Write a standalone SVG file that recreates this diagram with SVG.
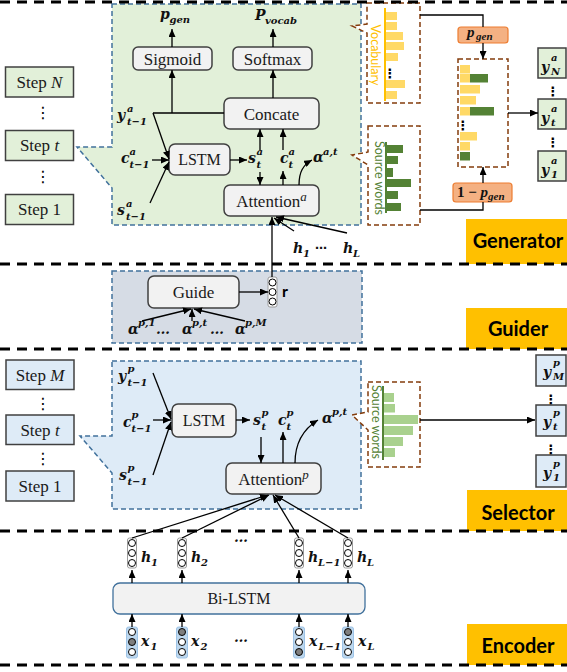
<svg xmlns="http://www.w3.org/2000/svg" width="567" height="672" viewBox="0 0 567 672">
<defs>
<style>
.n{fill:#F2F2F2;stroke:#404040;stroke-width:1.5}
.t{font-family:"Liberation Serif",serif;font-size:17px;fill:#1a1a1a;text-anchor:middle}
.m{font-family:"DejaVu Serif",serif;font-weight:bold;font-style:italic;font-size:14px;fill:#111}
.s{font-size:10px}
.ln{fill:none;stroke:#000;stroke-width:1.3}
.a{marker-end:url(#arr)}
.reg{stroke:#41719C;stroke-width:1.5;stroke-dasharray:5 3}
.br{fill:#fff;stroke:#843C0C;stroke-width:1.5;stroke-dasharray:5 3}
.sep{stroke:#000;stroke-width:3;stroke-dasharray:10 7}
.lab{fill:#FFC000}
.lt{font-family:Lato,"Liberation Sans",sans-serif;font-weight:bold;font-size:20px;text-anchor:middle;fill:#000}
.stg{fill:#E2F0D9;stroke:#404040;stroke-width:1.5}
.stb{fill:#DEEBF7;stroke:#404040;stroke-width:1.5}
.dots{font-family:"DejaVu Sans",sans-serif;font-size:16px;fill:#000;text-anchor:middle}
.vec{fill:#fff;stroke:#9a9a9a;stroke-width:1}
.xv{fill:#BDD7EE;stroke:#9DC3E6;stroke-width:1}
.c{fill:#fff;stroke:#000;stroke-width:1}
.cg{fill:#7F7F7F;stroke:#000;stroke-width:1}
.yb{fill:#FFD966}
.gb{fill:#548235}
.lg{fill:#A9D18E}
.pg{fill:#F4B183;stroke:#ED7D31;stroke-width:1.2}
.vt{font-family:Lato,"Liberation Sans",sans-serif;font-size:12.5px;text-anchor:middle}
.el{font-family:"DejaVu Sans",sans-serif;font-style:normal;font-weight:bold;font-size:12px}
</style>
<marker id="arr" markerUnits="userSpaceOnUse" markerWidth="8" markerHeight="7" refX="8" refY="3.5" orient="auto">
<path d="M0,0 L8,3.5 L0,7 Z" fill="#000"/>
</marker>
</defs>
<rect width="567" height="672" fill="#fff"/>

<!-- section labels -->
<g id="label-generator"><rect class="lab" x="466" y="219" width="101" height="45"/><text class="lt" x="518" y="248">Generator</text></g>
<g id="label-guider"><rect class="lab" x="466" y="308" width="101" height="41"/><text class="lt" x="518" y="336">Guider</text></g>
<g id="label-selector"><rect class="lab" x="467" y="490" width="100" height="41"/><text class="lt" x="518" y="520">Selector</text></g>
<g id="label-encoder"><rect class="lab" x="467" y="624" width="100" height="41"/><text class="lt" x="518" y="653">Encoder</text></g>

<!-- regions -->
<g id="generator-region"><path class="reg" fill="#E2F0D9" d="M112,4 H361 V225 H112 V188 L77,147 H112 Z"/></g>
<g id="guider-region"><rect class="reg" fill="#D6DCE5" x="112" y="271" width="250" height="72"/></g>
<g id="selector-region"><path class="reg" fill="#DEEBF7" d="M112,361 H361 V509 H112 V473 L80,436 H112 Z"/></g>

<!-- generator step boxes -->
<g id="gen-step-N"><rect class="stg" x="5.5" y="67" width="68" height="30"/><text class="t" x="39.5" y="87.5">Step <tspan font-style="italic">N</tspan></text></g>
<text class="dots" x="43" y="118">⋮</text>
<g id="gen-step-t"><rect class="stg" x="5.5" y="130.5" width="68" height="30"/><text class="t" x="39.5" y="151">Step <tspan font-style="italic">t</tspan></text></g>
<text class="dots" x="43" y="182">⋮</text>
<g id="gen-step-1"><rect class="stg" x="5.5" y="194.5" width="68" height="30"/><text class="t" x="39.5" y="215">Step 1</text></g>

<!-- generator nodes -->
<g id="sigmoid"><rect class="n" x="133" y="47" width="79" height="23" rx="5"/><text class="t" x="172.5" y="64.5">Sigmoid</text></g>
<g id="softmax"><rect class="n" x="233" y="47" width="79" height="23" rx="5"/><text class="t" x="272.5" y="64.5">Softmax</text></g>
<g id="concate"><rect class="n" x="224" y="98" width="95" height="31" rx="6"/><text class="t" x="271.5" y="119.5">Concate</text></g>
<g id="lstm-gen"><rect class="n" x="169" y="144" width="61" height="31" rx="6"/><text class="t" x="199.5" y="165" style="font-size:16px">LSTM</text></g>
<g id="attention-a"><rect class="n" x="224" y="185" width="95" height="31" rx="6"/><text class="t" x="271.5" y="206.5">Attention<tspan font-style="italic" font-size="13px" dy="-6">a</tspan></text></g>

<!-- generator labels -->
<g id="gen-labels">
<text class="m"><tspan x="160" y="19">p</tspan><tspan class="s" x="169.5" y="23">gen</tspan></text>
<text class="m"><tspan x="255" y="20">P</tspan><tspan class="s" x="265" y="24">vocab</tspan></text>
<text class="m"><tspan x="117" y="120">y</tspan><tspan class="s" x="127" y="112">a</tspan><tspan class="s" x="127" y="125">t−1</tspan></text>
<text class="m"><tspan x="121" y="163">c</tspan><tspan class="s" x="129.5" y="155">a</tspan><tspan class="s" x="129.5" y="168">t−1</tspan></text>
<text class="m"><tspan x="117" y="215">s</tspan><tspan class="s" x="126" y="207">a</tspan><tspan class="s" x="126" y="220">t−1</tspan></text>
<text class="m"><tspan x="248" y="163">s</tspan><tspan class="s" x="256.5" y="155">a</tspan><tspan class="s" x="256.5" y="168">t</tspan></text>
<text class="m"><tspan x="280" y="163">c</tspan><tspan class="s" x="288.5" y="155">a</tspan><tspan class="s" x="288.5" y="168">t</tspan></text>
<text class="m"><tspan x="313" y="162">α</tspan><tspan class="s" x="323" y="155">a,t</tspan></text>
<text class="m"><tspan x="293" y="253">h</tspan><tspan class="s" x="303" y="257">1</tspan><tspan class="el" x="315" y="252">⋯</tspan><tspan x="343" y="253">h</tspan><tspan class="s" x="353" y="257">L</tspan></text>
</g>

<!-- vocabulary box -->
<g id="vocabulary">
<path class="br" d="M367,3 H420 V103 H367 V33 L352,26 L367,24 Z"/>
<line x1="385" y1="8" x2="385" y2="101" stroke="#FFC000" stroke-width="2"/>
<rect class="yb" x="386" y="12" width="11" height="8"/>
<rect class="yb" x="386" y="22" width="11" height="8"/>
<rect class="yb" x="386" y="32" width="17" height="8"/>
<rect class="yb" x="386" y="42" width="18" height="8"/>
<rect class="yb" x="386" y="53" width="12" height="8"/>
<text class="dots" x="390" y="78" style="font-size:13px;font-weight:bold">⋮</text>
<rect class="yb" x="386" y="80" width="19" height="8"/>
<rect class="yb" x="386" y="91" width="11" height="8"/>
<text class="vt" fill="#FFC000" transform="translate(371,55) rotate(90)">Vocabulary</text>
</g>

<!-- source words (generator) -->
<g id="source-words-gen">
<path class="br" d="M368,126 H420 V225 H368 V165 L352,155 L368,152 Z"/>
<line x1="386" y1="142" x2="386" y2="213" stroke="#548235" stroke-width="2"/>
<rect class="gb" x="387" y="145" width="16" height="8"/>
<rect class="gb" x="387" y="156" width="11" height="8"/>
<rect class="gb" x="387" y="168" width="6" height="9"/>
<rect class="gb" x="387" y="179" width="24" height="8"/>
<rect class="gb" x="387" y="191" width="11" height="8"/>
<rect class="gb" x="387" y="203" width="14" height="8"/>
<text class="vt" fill="#548235" transform="translate(375,178) rotate(90)">Source words</text>
</g>

<!-- pgen boxes -->
<g id="pgen-box"><rect class="pg" x="458" y="27" width="50" height="16" rx="3"/><text style="font-family:'Liberation Serif',serif;font-weight:bold;font-style:italic;font-size:15px;fill:#111"><tspan x="467" y="37">p</tspan><tspan style="font-size:11px" x="476" y="40">gen</tspan></text></g>
<g id="one-minus-pgen-box"><rect class="pg" x="453" y="183" width="59" height="19" rx="3"/><text style="font-family:'Liberation Serif',serif;font-weight:bold;font-size:15px;fill:#111"><tspan x="457" y="197">1 − </tspan><tspan font-style="italic">p</tspan><tspan style="font-size:11px;font-style:italic" dy="3">gen</tspan></text></g>

<!-- mixture box -->
<g id="mixture">
<rect class="br" x="458" y="59" width="50" height="108"/>
<rect class="yb" x="460" y="65" width="10" height="8.5"/>
<rect class="yb" x="460" y="74" width="10" height="8.5"/>
<rect class="gb" x="470" y="74" width="18" height="8.5"/>
<rect class="yb" x="460" y="85" width="20" height="8.5"/>
<rect class="yb" x="460" y="96" width="16" height="8.5"/>
<rect class="yb" x="460" y="107" width="10" height="8.5"/>
<rect class="gb" x="470" y="107" width="24" height="8.5"/>
<text class="dots" x="463" y="130" style="font-size:13px;font-weight:bold">⋮</text>
<rect class="yb" x="460" y="132" width="17" height="8.5"/>
<rect class="yb" x="460" y="142" width="10" height="8.5"/>
<rect class="gb" x="460" y="152" width="10" height="8.5"/>
</g>

<!-- output y^a boxes -->
<g id="ya-N"><rect class="stg" x="538" y="48" width="28" height="30"/><text class="m"><tspan x="541" y="72">y</tspan><tspan class="s" x="551" y="61">a</tspan><tspan class="s" x="551" y="75">N</tspan></text></g>
<text class="dots" x="553" y="96" style="font-size:13px;font-weight:bold">⋮</text>
<g id="ya-t"><rect class="stg" x="538" y="99" width="28" height="30"/><text class="m"><tspan x="541" y="123">y</tspan><tspan class="s" x="551" y="112">a</tspan><tspan class="s" x="551" y="126">t</tspan></text></g>
<text class="dots" x="553" y="147" style="font-size:13px;font-weight:bold">⋮</text>
<g id="ya-1"><rect class="stg" x="538" y="151" width="28" height="30"/><text class="m"><tspan x="541" y="175">y</tspan><tspan class="s" x="551" y="164">a</tspan><tspan class="s" x="551" y="178">1</tspan></text></g>

<!-- guider nodes -->
<g id="guide"><rect class="n" x="148" y="276" width="91" height="32" rx="6"/><text class="t" x="193.5" y="298">Guide</text></g>
<g id="r-vector"><rect class="vec" x="268" y="277" width="9" height="30" rx="2"/><circle class="c" cx="272.5" cy="282.5" r="3.5"/><circle class="c" cx="272.5" cy="292" r="3.5"/><circle class="c" cx="272.5" cy="301.5" r="3.5"/><text x="282" y="297" style="font-family:Lato,'Liberation Sans',sans-serif;font-weight:bold;font-size:16px">r</text></g>
<g id="guider-labels">
<text class="m"><tspan x="128" y="334">α</tspan><tspan class="s" x="138" y="326">p,1</tspan><tspan x="156" y="334">…</tspan><tspan x="182" y="334">α</tspan><tspan class="s" x="192" y="326">p,t</tspan><tspan x="210" y="334">…</tspan><tspan x="235" y="334">α</tspan><tspan class="s" x="245" y="326">p,M</tspan></text>
</g>

<!-- selector step boxes -->
<g id="sel-step-M"><rect class="stb" x="6" y="360" width="68" height="29.5"/><text class="t" x="40" y="380.5">Step <tspan font-style="italic">M</tspan></text></g>
<text class="dots" x="43" y="409">⋮</text>
<g id="sel-step-t"><rect class="stb" x="6" y="415" width="68" height="29.5"/><text class="t" x="40" y="435.5">Step <tspan font-style="italic">t</tspan></text></g>
<text class="dots" x="43" y="464">⋮</text>
<g id="sel-step-1"><rect class="stb" x="6" y="471" width="68" height="30"/><text class="t" x="40" y="491.5">Step 1</text></g>

<!-- selector nodes -->
<g id="lstm-sel"><rect class="n" x="172" y="404" width="64" height="33" rx="6"/><text class="t" x="204" y="426" style="font-size:16px">LSTM</text></g>
<g id="attention-p"><rect class="n" x="226" y="463" width="95" height="31" rx="6"/><text class="t" x="273.5" y="485">Attention<tspan font-style="italic" font-size="13px" dy="-6">p</tspan></text></g>
<g id="sel-labels">
<text class="m"><tspan x="118" y="381">y</tspan><tspan class="s" x="127.5" y="372">p</tspan><tspan class="s" x="127.5" y="386">t−1</tspan></text>
<text class="m"><tspan x="123" y="427">c</tspan><tspan class="s" x="131.5" y="418">p</tspan><tspan class="s" x="131.5" y="432">t−1</tspan></text>
<text class="m"><tspan x="119" y="480">s</tspan><tspan class="s" x="127.5" y="471">p</tspan><tspan class="s" x="127.5" y="485">t−1</tspan></text>
<text class="m"><tspan x="253" y="425">s</tspan><tspan class="s" x="261.5" y="416">p</tspan><tspan class="s" x="261.5" y="430">t</tspan></text>
<text class="m"><tspan x="278" y="425">c</tspan><tspan class="s" x="286.5" y="416">p</tspan><tspan class="s" x="286.5" y="430">t</tspan></text>
<text class="m"><tspan x="322" y="423">α</tspan><tspan class="s" x="332" y="415">p,t</tspan></text>
</g>

<!-- source words (selector) -->
<g id="source-words-sel">
<path class="br" d="M368,382 H420 V467 H368 V430 L352,415 L368,412 Z"/>
<line x1="383" y1="386" x2="383" y2="460" stroke="#548235" stroke-width="2"/>
<rect class="lg" x="384" y="393" width="10" height="9"/>
<rect class="lg" x="384" y="404" width="11" height="8.5"/>
<rect class="lg" x="384" y="415" width="34" height="9"/>
<rect class="lg" x="384" y="426" width="29" height="9"/>
<rect class="lg" x="384" y="437" width="19" height="9"/>
<rect class="lg" x="384" y="448" width="11" height="9"/>
<text class="vt" fill="#548235" transform="translate(372,422) rotate(90)">Source words</text>
</g>

<!-- output y^p boxes -->
<g id="yp-M"><rect class="stb" x="536" y="355" width="30" height="31"/><text class="m"><tspan x="543" y="377">y</tspan><tspan class="s" x="553" y="366">p</tspan><tspan class="s" x="553" y="380">M</tspan></text></g>
<text class="dots" x="551" y="404" style="font-size:13px;font-weight:bold">⋮</text>
<g id="yp-t"><rect class="stb" x="536" y="405" width="30" height="31"/><text class="m"><tspan x="543" y="427">y</tspan><tspan class="s" x="553" y="416">p</tspan><tspan class="s" x="553" y="430">t</tspan></text></g>
<text class="dots" x="551" y="454" style="font-size:13px;font-weight:bold">⋮</text>
<g id="yp-1"><rect class="stb" x="536" y="455" width="30" height="32"/><text class="m"><tspan x="543" y="478">y</tspan><tspan class="s" x="553" y="467">p</tspan><tspan class="s" x="553" y="481">1</tspan></text></g>

<!-- encoder -->
<g id="bi-lstm"><rect x="113" y="583" width="252" height="31" rx="7" fill="#F2F2F2" stroke="#41719C" stroke-width="1.3"/><text class="t" x="239" y="604" style="font-size:16px">Bi-LSTM</text></g>
<g id="h1"><rect class="vec" x="127.5" y="538" width="9" height="30" rx="2"/><circle class="c" cx="132" cy="543" r="3.5"/><circle class="c" cx="132" cy="553" r="3.5"/><circle class="c" cx="132" cy="563" r="3.5"/><text class="m"><tspan x="141" y="562">h</tspan><tspan class="s" x="151" y="566">1</tspan></text></g>
<g id="h2"><rect class="vec" x="177.5" y="538" width="9" height="30" rx="2"/><circle class="c" cx="182" cy="543" r="3.5"/><circle class="c" cx="182" cy="553" r="3.5"/><circle class="c" cx="182" cy="563" r="3.5"/><text class="m"><tspan x="191" y="562">h</tspan><tspan class="s" x="201" y="566">2</tspan></text></g>
<g id="hL1"><rect class="vec" x="294.5" y="538" width="9" height="30" rx="2"/><circle class="c" cx="299" cy="543" r="3.5"/><circle class="c" cx="299" cy="553" r="3.5"/><circle class="c" cx="299" cy="563" r="3.5"/><text class="m"><tspan x="308" y="562">h</tspan><tspan class="s" x="318" y="566">L−1</tspan></text></g>
<g id="hL"><rect class="vec" x="343.5" y="538" width="9" height="30" rx="2"/><circle class="c" cx="348" cy="543" r="3.5"/><circle class="c" cx="348" cy="553" r="3.5"/><circle class="c" cx="348" cy="563" r="3.5"/><text class="m"><tspan x="357" y="562">h</tspan><tspan class="s" x="367" y="566">L</tspan></text></g>
<text class="m" x="234" y="542">…</text>
<g id="x1"><rect class="xv" x="126.5" y="627" width="11" height="31" rx="2"/><circle class="c" cx="132" cy="632" r="3.5"/><circle class="cg" cx="132" cy="642" r="3.5"/><circle class="c" cx="132" cy="652" r="3.5"/><text class="m"><tspan x="141" y="646">x</tspan><tspan class="s" x="150.5" y="650">1</tspan></text></g>
<g id="x2"><rect class="xv" x="176.5" y="627" width="11" height="31" rx="2"/><circle class="cg" cx="182" cy="632" r="3.5"/><circle class="c" cx="182" cy="642" r="3.5"/><circle class="c" cx="182" cy="652" r="3.5"/><text class="m"><tspan x="191" y="646">x</tspan><tspan class="s" x="200.5" y="650">2</tspan></text></g>
<g id="xL1"><rect class="xv" x="293.5" y="627" width="11" height="31" rx="2"/><circle class="c" cx="299" cy="632" r="3.5"/><circle class="c" cx="299" cy="642" r="3.5"/><circle class="cg" cx="299" cy="652" r="3.5"/><text class="m"><tspan x="309" y="646">x</tspan><tspan class="s" x="318.5" y="650">L−1</tspan></text></g>
<g id="xL"><rect class="xv" x="342.5" y="627" width="11" height="31" rx="2"/><circle class="cg" cx="348" cy="632" r="3.5"/><circle class="c" cx="348" cy="642" r="3.5"/><circle class="c" cx="348" cy="652" r="3.5"/><text class="m"><tspan x="358" y="646">x</tspan><tspan class="s" x="367.5" y="650">L</tspan></text></g>
<text class="m" x="234" y="642">…</text>

<!-- connectors -->
<g id="connectors">
<path class="ln a" d="M172,47 V29"/>
<path class="ln a" d="M273,47 V29"/>
<path class="ln a" d="M273,98 V70"/>
<path class="ln" d="M224,113 H153"/>
<path class="ln a" d="M172,113 V70"/>
<path class="ln a" d="M153,113 L169,159"/>
<path class="ln a" d="M152,160 H169"/>
<path class="ln a" d="M150,203 L169,162"/>
<path class="ln a" d="M230,160 H247"/>
<path class="ln a" d="M260,172 V185"/>
<path class="ln a" d="M260,150 V129"/>
<path class="ln a" d="M283,150 V129"/>
<path class="ln a" d="M283,185 V171"/>
<path class="ln a" d="M299,185 C299,172 303,165 312,160"/>
<path class="ln a" d="M272,277 V217"/>
<path class="ln a" d="M294,231 L274,218"/>
<path class="ln a" d="M347,233 L276,217"/>
<path class="ln" stroke="#404040" d="M420,15 H483 V27"/>
<path class="ln a" d="M483,43 V59"/>
<path class="ln" stroke="#404040" d="M420,210 H483 V202"/>
<path class="ln a" d="M483,183 V167"/>
<path class="ln a" d="M508,113 H538"/>
<path class="ln a" d="M239,292 H268"/>
<path class="ln a" d="M142,321 L191,309"/>
<path class="ln a" d="M192,321 V309"/>
<path class="ln a" d="M245,321 L194,309"/>
<path class="ln a" d="M153,373 L171,419"/>
<path class="ln a" d="M153,420 H171"/>
<path class="ln a" d="M153,475 L171,422"/>
<path class="ln a" d="M236,420 H250"/>
<path class="ln a" d="M261,437 V463"/>
<path class="ln a" d="M283,463 V432"/>
<path class="ln a" d="M295,463 C295,440 305,428 318,420"/>
<path class="ln a" d="M420,420 H535"/>
<path class="ln a" d="M132,538 L268,495"/>
<path class="ln a" d="M182,538 L269,495"/>
<path class="ln a" d="M299,538 L273,495"/>
<path class="ln a" d="M348,538 L275,495"/>
<path class="ln a" d="M132,583 V570"/>
<path class="ln a" d="M182,583 V570"/>
<path class="ln a" d="M299,583 V570"/>
<path class="ln a" d="M348,583 V570"/>
<path class="ln a" d="M132,627 V614"/>
<path class="ln a" d="M182,627 V614"/>
<path class="ln a" d="M299,627 V614"/>
<path class="ln a" d="M348,627 V614"/>
</g>

<!-- separators -->
<g id="separators">
<line class="sep" x1="0" y1="2" x2="567" y2="2"/>
<line class="sep" x1="0" y1="264" x2="567" y2="264"/>
<line class="sep" x1="0" y1="349" x2="567" y2="349"/>
<line class="sep" x1="0" y1="531" x2="567" y2="531"/>
<line class="sep" x1="0" y1="665" x2="567" y2="665"/>
</g>
</svg>
